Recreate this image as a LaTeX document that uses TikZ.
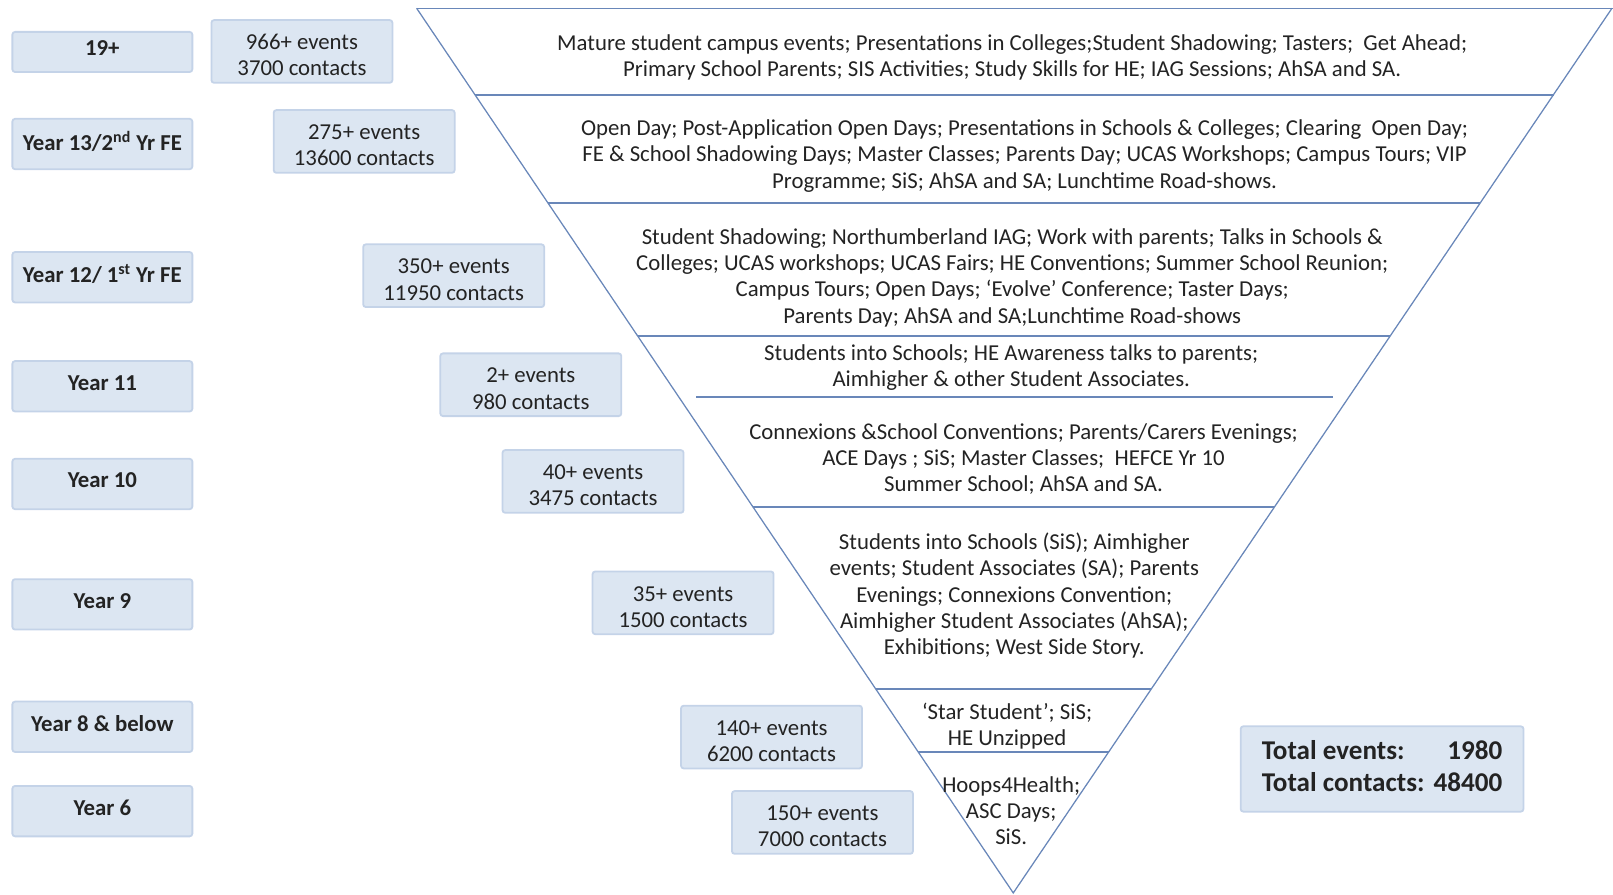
\documentclass[tikz,border=0pt]{standalone}
\usepackage{fontspec}
\setmainfont{Carlito}
\definecolor{boxfill}{RGB}{220,230,242}
\definecolor{boxline}{RGB}{196,211,232}
\definecolor{triline}{RGB}{105,135,185}
\definecolor{txt}{RGB}{35,35,35}
\newcommand{\evtop}{\rule{0pt}{12.6pt}}
\begin{document}
\begin{tikzpicture}[x=0.02cm,y=-0.02cm,
  agebox/.style={draw=boxline,fill=boxfill,line width=1pt,rounded corners=1.5pt,
    minimum width=3.5cm,minimum height=0.98cm,inner sep=0pt,
    font=\fontsize{12.6}{14.5}\selectfont\bfseries,text=txt,
    execute at begin node={\rule[-3.9pt]{0pt}{10pt}}},
  evbox/.style={draw=boxline,fill=boxfill,line width=1pt,rounded corners=1.5pt,
    minimum width=3.52cm,minimum height=1.22cm,inner sep=0pt,align=center,
    font=\fontsize{12.6}{14.5}\selectfont,text=txt},
  band/.style={align=center,inner sep=0pt,font=\fontsize{12.6}{14.5}\selectfont,text=txt},
  divider/.style={draw=triline,line width=1.1pt}]
\useasboundingbox (0,0) rectangle (1568,870);
% the inverted triangle
\draw[triline,line width=0.7pt] (405,8) -- (1568,8);
\draw[triline,line width=0.7pt] (405,8) -- (985,868) -- (1567,8);
\draw[divider] (461.7,92) -- (1510.2,92);
\draw[divider] (532.5,197) -- (1439.1,197);
\draw[divider] (620.1,327) -- (1351.1,327);
\draw[divider] (677,386) -- (1296,386);
\draw[divider] (732.1,493) -- (1238.8,493);
\draw[divider] (851.5,670) -- (1119.0,670);
\draw[divider] (892.6,731) -- (1077.7,731);
% age groups
\node[agebox,minimum height=0.78cm] (y19) at (99.5,50.5) {19+};
\node[agebox] (y13) at (99.5,140) {Year 13/2\textsuperscript{nd} Yr FE};
\node[agebox] (y12) at (99.5,269.5) {Year 12/ 1\textsuperscript{st} Yr FE};
\node[agebox] (y11) at (99.5,375.5) {Year 11};
\node[agebox] (y10) at (99.5,470.5) {Year 10};
\node[agebox] (y9) at (99.5,587.5) {Year 9};
\node[agebox] (y8) at (99.5,706.5) {Year 8 \& below};
\node[agebox] (y6) at (99.5,788.5) {Year 6};
% events and contacts
\node[evbox] (ev19) at (293.5,50) {\evtop 966+ events\\3700 contacts};
\node[evbox] (ev13) at (354,137.5) {\evtop 275+ events\\13600 contacts};
\node[evbox] (ev12) at (441,268) {\evtop 350+ events\\11950 contacts};
\node[evbox] (ev11) at (516,374) {\evtop 2+ events\\980 contacts};
\node[evbox] (ev10) at (576.5,468) {\evtop 40+ events\\3475 contacts};
\node[evbox] (ev9) at (664,586) {\evtop 35+ events\\1500 contacts};
\node[evbox] (ev8) at (750,716.5) {\evtop 140+ events\\6200 contacts};
\node[evbox] (ev6) at (799.5,799.5) {\evtop 150+ events\\7000 contacts};
% activities in each band
\node[band] (band1) at (984,55.5) {Mature student campus events; Presentations in Colleges;Student Shadowing; Tasters; \ Get Ahead;\\
  Primary School Parents; SIS Activities; Study Skills for HE; IAG Sessions; AhSA and SA.};
\node[band] (band2) at (996,151.5) {Open Day; Post-Application Open Days; Presentations in Schools \& Colleges; Clearing \ Open Day;\\
  FE \& School Shadowing Days; Master Classes; Parents Day; UCAS Workshops; Campus Tours; VIP\\
  Programme; SiS; AhSA and SA; Lunchtime Road-shows.};
\node[band] (band3) at (984,270) {Student Shadowing; Northumberland IAG; Work with parents; Talks in Schools \&\\
  Colleges; UCAS workshops; UCAS Fairs; HE Conventions; Summer School Reunion;\\
  Campus Tours; Open Days; ‘Evolve’ Conference; Taster Days;\\
  Parents Day; AhSA and SA;Lunchtime Road-shows};
\node[band] (band4) at (983,357.5) {Students into Schools; HE Awareness talks to parents;\\
  Aimhigher \& other Student Associates.};
\node[band] (band5) at (995,446) {Connexions \&School Conventions; Parents/Carers Evenings;\\
  ACE Days ; SiS; Master Classes; \ HEFCE Yr 10\\
  Summer School; AhSA and SA.};
\node[band] (band6) at (986,579) {Students into Schools (SiS); Aimhigher\\
  events; Student Associates (SA); Parents\\
  Evenings; Connexions Convention;\\
  Aimhigher Student Associates (AhSA);\\
  Exhibitions; West Side Story.};
\node[band] (band7) at (979,705.5) {‘Star Student’; SiS;\\HE Unzipped};
\node[band] (band8) at (983,788) {Hoops4Health;\\ASC Days;\\SiS.};
% totals
\node[draw=boxline,fill=boxfill,line width=1pt,rounded corners=1.5pt,
  minimum width=5.5cm,minimum height=1.66cm,inner sep=0pt,text=txt,
  font=\fontsize{15}{18.2}\selectfont\bfseries] (total) at (1343.5,747.5)
  {\begin{tabular}{@{}l@{\hspace{5pt}}r@{}}Total events: & 1980\\Total contacts: & 48400\end{tabular}};
\end{tikzpicture}
\end{document}
